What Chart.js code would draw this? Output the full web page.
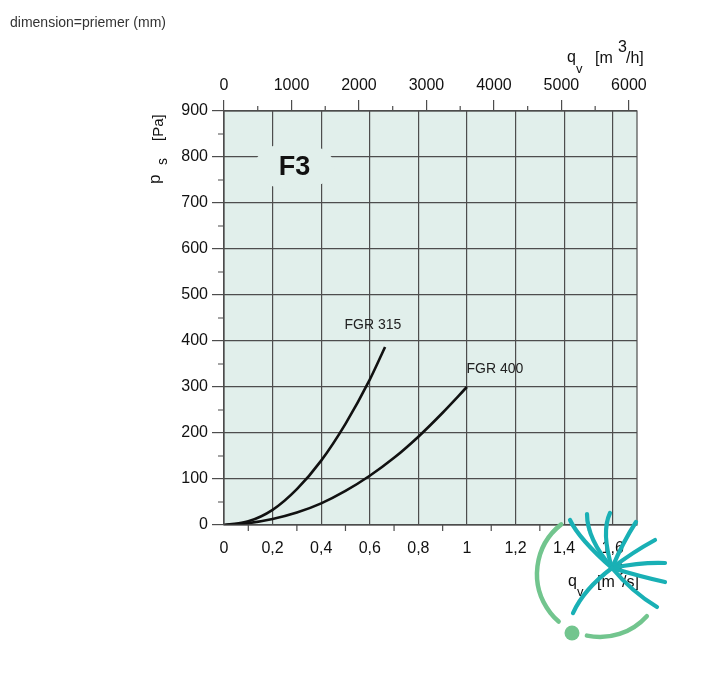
<!DOCTYPE html>
<html>
<head>
<meta charset="utf-8">
<title>F3</title>
<script src="https://cdn.jsdelivr.net/npm/chart.js@4.4.0/dist/chart.umd.min.js"></script>
<style>
body{margin:0;background:#fff;}
#wrap{position:absolute;left:0;top:0;width:702px;height:680px;}
#note{position:absolute;left:10px;top:14px;font:14px "Liberation Sans",Arial,sans-serif;color:#333;}
</style>
</head>
<body>
<div id="wrap"><canvas id="myChart" width="702" height="680"></canvas></div>
<div id="note">dimension=priemer (mm)</div>
<script>
// values (q in m3/s, p in Pa)
const qFGR315 = [0, 0.1, 0.2, 0.3, 0.4, 0.5, 0.6, 0.663];
const pFGR315 = [0, 8, 33, 78, 140, 220, 316, 387];
const qFGR400 = [0, 0.1, 0.2, 0.3, 0.4, 0.5, 0.6, 0.7, 0.8, 0.9, 1.0];
const pFGR400 = [0, 4, 13, 27, 47, 74, 107, 146, 192, 244, 300];

const xTicks = [0, 0.2, 0.4, 0.6, 0.8, 1, 1.2, 1.4, 1.6];        // m3/s
const topTicks = [0, 1000, 2000, 3000, 4000, 5000, 6000];        // m3/h
const yTicks = [0, 100, 200, 300, 400, 500, 600, 700, 800, 900]; // Pa

const xMinor = [0.1, 0.3, 0.5, 0.7, 0.9, 1.1, 1.3, 1.5];
const topMinor = [500, 1500, 2500, 3500, 4500, 5500];
const yMinor = [50, 150, 250, 350, 450, 550, 650, 750, 850];

const curveNames = ['FGR 315', 'FGR 400'];

const gridColor = '#4d4d4d';
const plotBg = '#e1efeb';
const txtColor = '#111';
const fontFam = '"Liberation Sans", Arial, Helvetica, sans-serif';
const tickFont = {family: fontFam, size: 16};

function pts(qs, ps) {
  return qs.map((q, i) => ({x: q, y: ps[i]}));
}

// plot background
const bgPlugin = {
  id: 'bg',
  beforeDraw(chart) {
    const a = chart.chartArea, ctx = chart.ctx;
    ctx.save();
    ctx.fillStyle = plotBg;
    ctx.fillRect(a.left, a.top, a.right - a.left, a.bottom - a.top);
    ctx.restore();
  }
};

// "F3" over the grid (grid is cut out round it)
const badgePlugin = {
  id: 'badge',
  beforeDatasetsDraw(chart) {
    const ctx = chart.ctx, xs = chart.scales.x, ys = chart.scales.y;
    const cx = xs.getPixelForValue(0.29), cy = ys.getPixelForValue(780);
    ctx.save();
    ctx.fillStyle = plotBg;
    ctx.beginPath();
    ctx.ellipse(cx, cy, 40, 24, 0, 0, Math.PI * 2);
    ctx.fill();
    ctx.fillStyle = '#111';
    ctx.font = 'bold 27px ' + fontFam;
    ctx.textAlign = 'center';
    ctx.textBaseline = 'middle';
    ctx.fillText('F3', cx, cy + 1);
    ctx.restore();
  }
};

// curve names
const namesPlugin = {
  id: 'names',
  afterDatasetsDraw(chart) {
    const ctx = chart.ctx, xs = chart.scales.x, ys = chart.scales.y;
    ctx.save();
    ctx.fillStyle = '#222';
    ctx.font = '14px ' + fontFam;
    ctx.textAlign = 'center';
    ctx.textBaseline = 'middle';
    ctx.fillText(curveNames[0], xs.getPixelForValue(0.613), ys.getPixelForValue(435));
    ctx.fillText(curveNames[1], xs.getPixelForValue(1.115), ys.getPixelForValue(339));
    ctx.restore();
  }
};

// minor ticks, frame, axis titles, logo
const decoPlugin = {
  id: 'deco',
  afterDraw(chart) {
    const ctx = chart.ctx, a = chart.chartArea;
    const xs = chart.scales.x, x2 = chart.scales.x2, ys = chart.scales.y;
    ctx.save();
    ctx.strokeStyle = gridColor;
    ctx.lineWidth = 1.2;
    ctx.strokeRect(a.left, a.top, a.right - a.left, a.bottom - a.top);
    ctx.beginPath();
    yMinor.forEach(v => {
      const y = ys.getPixelForValue(v);
      ctx.moveTo(a.left - 6, y); ctx.lineTo(a.left, y);
    });
    xMinor.forEach(v => {
      const x = xs.getPixelForValue(v);
      ctx.moveTo(x, a.bottom); ctx.lineTo(x, a.bottom + 6);
    });
    topMinor.forEach(v => {
      const x = x2.getPixelForValue(v);
      ctx.moveTo(x, a.top - 5); ctx.lineTo(x, a.top);
    });
    ctx.stroke();

    ctx.fillStyle = txtColor;
    ctx.textBaseline = 'alphabetic';
    ctx.textAlign = 'left';
    const big = '16px ' + fontFam, small = '13px ' + fontFam;

    // y title, rotated
    ctx.save();
    ctx.translate(160, 184);
    ctx.rotate(-Math.PI / 2);
    ctx.font = '17px ' + fontFam; ctx.fillText('p', 0, 0);
    ctx.font = '14px ' + fontFam; ctx.fillText('s', 19, 7);
    ctx.font = '15px ' + fontFam; ctx.fillText('[Pa]', 43, 3);
    ctx.restore();

    // top title q_v [m3/h]
    ctx.font = big; ctx.fillText('q', 567, 62);
    ctx.font = small; ctx.fillText('v', 576, 73);
    ctx.font = big; ctx.fillText('[m', 595, 63);
    ctx.font = big; ctx.fillText('3', 618, 52);
    ctx.font = big; ctx.fillText('/h]', 626, 63);

    // bottom title q_v [m3/s]
    ctx.font = big; ctx.fillText('q', 568, 586);
    ctx.font = small; ctx.fillText('v', 577, 596);
    ctx.font = big; ctx.fillText('[m', 597, 587);
    ctx.font = big; ctx.fillText('3', 615, 575);
    ctx.font = big; ctx.fillText('/s]', 622, 587);

    // logo
    ctx.lineCap = 'round';
    ctx.strokeStyle = '#72c58e';
    ctx.lineWidth = 4.5;
    const d = Math.PI / 180;
    ctx.beginPath(); ctx.arc(600, 574, 63, 232 * d, 131 * d, true); ctx.stroke();
    ctx.beginPath(); ctx.arc(600, 574, 63, 102 * d, 42 * d, true); ctx.stroke();
    ctx.fillStyle = '#72c58e';
    ctx.beginPath(); ctx.arc(572, 633, 7.5, 0, Math.PI * 2); ctx.fill();

    ctx.strokeStyle = '#19b0b5';
    ctx.lineWidth = 4.2;
    const fan = [
      [612, 568, 579, 539, 570, 520],
      [612, 568, 587, 539, 587, 514],
      [612, 568, 601, 532, 610, 513],
      [612, 568, 623, 542, 636, 522],
      [612, 568, 633, 552, 655, 540],
      [612, 568, 642, 562, 665, 563],
      [612, 568, 642, 577, 665, 582],
      [612, 568, 632, 592, 657, 607],
      [612, 568, 584, 589, 573, 613]
    ];
    fan.forEach(f => {
      ctx.beginPath();
      ctx.moveTo(f[0], f[1]);
      ctx.quadraticCurveTo(f[2], f[3], f[4], f[5]);
      ctx.stroke();
    });
    ctx.restore();
  }
};

const data = {
  datasets: [
    {
      label: curveNames[0],
      data: pts(qFGR315, pFGR315),
      borderColor: '#111',
      borderWidth: 2.6,
      pointRadius: 0,
      tension: 0.4,
      cubicInterpolationMode: 'monotone',
      xAxisID: 'x',
      yAxisID: 'y'
    },
    {
      label: curveNames[1],
      data: pts(qFGR400, pFGR400),
      borderColor: '#111',
      borderWidth: 2.6,
      pointRadius: 0,
      tension: 0.4,
      cubicInterpolationMode: 'monotone',
      xAxisID: 'x',
      yAxisID: 'y'
    }
  ]
};

const config = {
  type: 'line',
  data: data,
  options: {
    responsive: false,
    animation: false,
    events: [],
    layout: {padding: {left: 0, right: 65, top: 0, bottom: 0}},
    plugins: {legend: {display: false}, tooltip: {enabled: false}},
    scales: {
      x: {
        type: 'linear', position: 'bottom', min: 0, max: 1.7,
        afterBuildTicks: s => { s.ticks = xTicks.map(v => ({value: v})); },
        afterFit: s => { s.height = 155; },
        ticks: {
          font: tickFont, color: txtColor, padding: 8, maxRotation: 0, autoSkip: false,
          callback: v => String(v).replace('.', ',')
        },
        grid: {color: gridColor, lineWidth: 1.2, tickLength: 6, tickColor: 'transparent'},
        border: {display: false}
      },
      x2: {
        type: 'linear', axis: 'x', position: 'top', min: 0, max: 6120,
        afterBuildTicks: s => { s.ticks = topTicks.map(v => ({value: v})); },
        afterFit: s => { s.height = 111; },
        ticks: {font: tickFont, color: txtColor, padding: 5, maxRotation: 0, autoSkip: false,
          callback: v => String(v)},
        grid: {drawOnChartArea: false, color: gridColor, lineWidth: 1.2, tickLength: 11, tickColor: gridColor},
        border: {display: false}
      },
      y: {
        min: 0, max: 900,
        afterBuildTicks: s => { s.ticks = yTicks.map(v => ({value: v})); },
        afterFit: s => { s.width = 224; },
        ticks: {font: tickFont, color: txtColor, padding: 4, autoSkip: false,
          callback: v => String(v)},
        grid: {color: gridColor, lineWidth: 1.2, tickLength: 12, tickColor: gridColor},
        border: {display: false}
      }
    }
  },
  plugins: [bgPlugin, badgePlugin, namesPlugin, decoPlugin]
};

const myChart = new Chart(document.getElementById('myChart'), config);
</script>
</body>
</html>
